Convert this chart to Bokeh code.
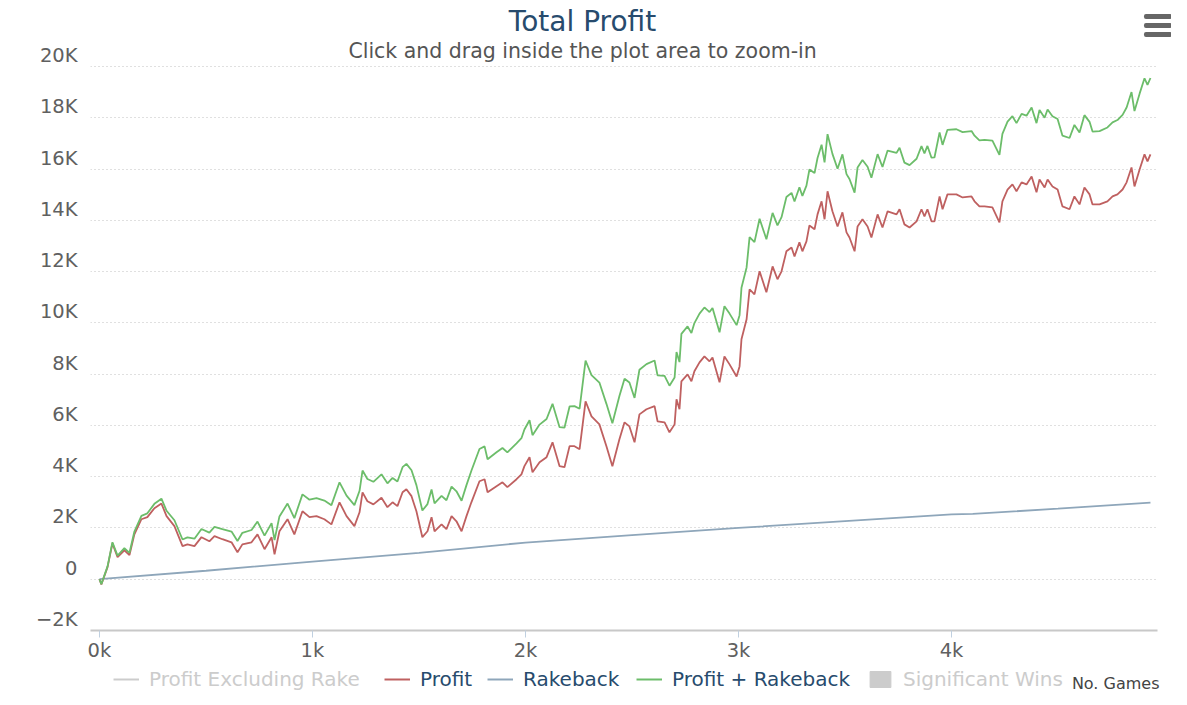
from bokeh.plotting import figure
from bokeh.layouts import column
from bokeh.models import (Range1d, FixedTicker, Label, Legend, LegendItem, ColumnDataSource,
                          LinearAxis, Grid)
from bokeh.embed import file_html
from bokeh.resources import INLINE

# ---------------- data ----------------
games = [0, 9, 38, 61, 85, 117, 141, 164, 197, 225, 258, 291, 315, 352, 390, 413, 446, 479, 516, 540,
         577, 620, 648, 671, 714, 742, 775, 808, 822, 845, 883, 915, 953, 986, 1019, 1056, 1089, 1127, 1160, 1197,
         1221, 1235, 1258, 1286,
         1324, 1352, 1376, 1399, 1423, 1441, 1465, 1488, 1516, 1540, 1559, 1573, 1606, 1629, 1653, 1676, 1700, 1723, 1746, 1784,
         1808, 1822, 1864, 1892, 1915, 1958, 1981, 1995, 2019, 2033, 2066, 2099, 2127, 2160, 2183, 2207, 2230, 2254, 2282, 2310,
         2347, 2380, 2408, 2441, 2465, 2488, 2512, 2535, 2568,
         2606, 2620, 2653, 2676, 2700, 2709, 2723, 2732, 2761, 2779, 2793, 2817, 2840, 2864, 2878, 2911, 2934, 2958, 2991, 3005,
         3014, 3038, 3052, 3075, 3099, 3131, 3160, 3183, 3202, 3225, 3249, 3263, 3286, 3300, 3319, 3333, 3357, 3371, 3390, 3404,
         3418, 3441, 3465, 3488, 3507, 3521, 3545, 3559, 3582, 3606, 3624, 3653, 3676, 3700, 3742, 3756,
         3779, 3803, 3836, 3859, 3873, 3887, 3906, 3920, 3944, 3958, 3981, 4023, 4052, 4094, 4108, 4131, 4155, 4192, 4225, 4239,
         4263, 4286, 4305, 4329, 4352, 4376, 4399, 4413, 4437, 4451, 4474, 4498, 4521, 4554, 4577, 4601, 4624, 4648, 4662, 4695,
         4732, 4756, 4779, 4803, 4822, 4845, 4859, 4883, 4906, 4920, 4934]

profit = [0, -200, 470, 1400, 860, 1130, 940, 1750, 2340, 2420, 2770, 2950, 2460, 2070, 1290, 1360, 1290, 1640, 1480, 1680,
          1560, 1440, 1050, 1360, 1440, 1750, 1170, 1640, 970, 1870, 2340, 1750, 2650, 2420, 2460, 2340, 2140, 3000, 2460, 2070,
          2610, 3390, 3040, 2920,
          3180, 2810, 3000, 2850, 3390, 3510, 3240, 2650, 1640, 1870, 2420, 1870, 2140, 1950, 2460, 2260, 1870, 2460, 3000, 3820,
          3900, 3390, 3630, 3780, 3590, 3900, 4090, 4410, 4760, 4170, 4560, 4760, 5340, 4410, 4370, 5190, 5190, 5070, 6940, 6350,
          6040, 5190, 4410, 5460, 6120, 5960, 5340, 6430, 6630,
          6750, 6160, 6120, 5730, 6040, 7020, 6630, 7720, 7990, 7720, 8110, 8460, 8690, 8500, 8650, 7680, 8690, 8380, 7910, 8300,
          9360, 10140, 11310, 11110, 12010, 11190, 12200, 11700, 12010, 12790, 12940, 12590, 13140, 12790, 13180, 13800, 13650, 14230, 14740, 14040,
          15130, 14350, 13760, 14310, 13530, 13330, 12790, 13760, 14040, 13760, 13330, 14230, 13720, 14350, 14230, 14430,
          13840, 13720, 13960, 14430, 14150, 14430, 13960, 13960, 14930, 14430, 15010, 15010, 14890, 14930, 14740, 14540, 14540, 14500, 13920, 14740,
          15200, 15400, 15130, 15480, 15400, 15710, 15090, 15590, 15280, 15590, 15320, 15200, 14540, 14430, 14930, 14620, 15280, 15010, 14620, 14620,
          14740, 14930, 15010, 15200, 15480, 16060, 15320, 15980, 16570, 16300, 16570]

profit_plus_rakeback = [0, -190, 500, 1440, 920, 1210, 1030, 1860, 2470, 2570, 2940, 3140, 2670, 2300, 1550, 1630, 1580, 1960, 1820, 2040,
                        1950, 1860, 1490, 1810, 1920, 2250, 1700, 2190, 1530, 2450, 2950, 2380, 3310, 3100, 3160, 3070, 2890, 3780, 3260, 2890,
                        3450, 4240, 3910, 3800,
                        4090, 3740, 3950, 3810, 4370, 4500, 4250, 3670, 2680, 2930, 3500, 2960, 3250, 3080, 3610, 3430, 3060, 3670, 4230, 5080,
                        5180, 4680, 4950, 5120, 4950, 5300, 5500, 5840, 6200, 5620, 6030, 6250, 6840, 5930, 5910, 6740, 6750, 6650, 8530, 7960,
                        7670, 6840, 6080, 7150, 7820, 7670, 7070, 8170, 8390,
                        8530, 7950, 7930, 7550, 7870, 8860, 8470, 9570, 9860, 9600, 9990, 10360, 10600, 10420, 10580, 9630, 10650, 10360, 9910, 10300,
                        11370, 12160, 13340, 13150, 14060, 13260, 14290, 13800, 14120, 14910, 15070, 14730, 15290, 14950, 15350, 15980, 15840, 16430, 16950, 16260,
                        17360, 16590, 16010, 16570, 15800, 15610, 15080, 16060, 16350, 16090, 15660, 16580, 16080, 16720, 16630, 16830,
                        16250, 16150, 16400, 16890, 16610, 16900, 16440, 16450, 17430, 16940, 17530, 17550, 17440, 17480, 17300, 17120, 17140, 17110, 16550, 17370,
                        17850, 18060, 17790, 18150, 18080, 18400, 17790, 18300, 18000, 18320, 18060, 17950, 17300, 17210, 17720, 17420, 18100, 17840, 17460, 17480,
                        17620, 17820, 17910, 18110, 18400, 19000, 18260, 18940, 19540, 19280, 19550]

rakeback_games = [0, 500, 1000, 1500, 2000, 2500, 3000, 3500, 4000, 4100, 4500, 4934]
rakeback = [0, 330, 690, 1030, 1430, 1720, 2000, 2270, 2530, 2550, 2750, 2990]

y_ticks = [-2000, 0, 2000, 4000, 6000, 8000, 10000, 12000, 14000, 16000, 18000, 20000]
y_tick_labels = ["\u22122K", "0", "2K", "4K", "6K", "8K", "10K", "12K", "14K", "16K", "18K", "20K"]
x_ticks = [0, 1000, 2000, 3000, 4000]
x_tick_labels = ["0k", "1k", "2k", "3k", "4k"]

series_names = ["Profit Excluding Rake", "Profit", "Rakeback", "Profit + Rakeback", "Significant Wins"]

FONT = "DejaVu Sans"
W = 1171
C_RED = "#bf6060"
C_GREEN = "#6cbd6a"
C_RB = "#8ea6ba"
C_HIDDEN = "#cccccc"
C_LEGEND = "#274b6d"

# value units per screen pixel on the y scale (22000 units over 565 px)
PX = 22000 / 565.0


def blank_fig(h):
    f = figure(width=W, height=h, output_backend="svg", toolbar_location=None,
               x_range=Range1d(0, W), y_range=Range1d(h, 0),
               x_axis_type=None, y_axis_type=None, frame_align=False,
               min_border_left=0, min_border_right=0, min_border_top=0, min_border_bottom=0)
    f.outline_line_color = None
    f.xgrid.visible = False
    f.ygrid.visible = False
    f.border_fill_color = "white"
    f.background_fill_color = "white"
    return f


# ---------------- header: title + menu icon ----------------
top = blank_fig(38)
top.add_layout(Label(x=582, y=21, text="Total Profit", text_align="center", text_baseline="middle",
                     text_font=FONT, text_font_size="28px", text_color="#274b6d"))
for yv in [16, 25, 34]:
    top.add_layout(Label(x=1157.5, y=yv, text="\u00a0" * 27, text_align="center", text_baseline="middle",
                         text_font="Noto Sans", text_font_size="4px", background_fill_color="#666666",
                         border_radius=2))
top.scatter([], [], size=0)

# ---------------- main chart ----------------
y_top = 20000 + 28 * PX          # frame reaches 28 px above the 20K line
p = figure(width=W, height=626, output_backend="svg", toolbar_location=None,
           x_range=Range1d(-42, 4967), y_range=Range1d(-2000, y_top), frame_align=False,
           y_axis_location=None,
           min_border_left=90, min_border_right=14, min_border_top=0, min_border_bottom=33)
p.outline_line_color = None
p.background_fill_color = "white"
p.border_fill_color = "white"

# tick labels sit ~11 px above their grid lines, as in the original
shift = 11 * PX
p.extra_y_ranges = {"lab": Range1d(-2000 - shift, y_top - shift)}
yax = LinearAxis(y_range_name="lab", ticker=FixedTicker(ticks=y_ticks),
                 major_label_overrides={t: l for t, l in zip(y_ticks, y_tick_labels)},
                 axis_line_color=None, major_tick_line_color=None, minor_tick_line_color=None,
                 major_label_standoff=7, major_label_text_font=FONT,
                 major_label_text_font_size="19.5px", major_label_text_color="#606060")
p.add_layout(yax, "left")

p.xgrid.visible = False
for g in list(p.ygrid):
    g.visible = False
p.add_layout(Grid(dimension=1, ticker=FixedTicker(ticks=y_ticks), grid_line_color="#c0c0c0",
                  grid_line_dash="1 3", grid_line_width=1))

p.xaxis.ticker = FixedTicker(ticks=x_ticks)
p.xaxis.major_label_overrides = {t: l for t, l in zip(x_ticks, x_tick_labels)}
p.xaxis.axis_line_color = "#c8c8c8"
p.xaxis.axis_line_width = 2
p.xaxis.major_tick_line_color = "#c0d0e0"
p.xaxis.major_tick_in = 0
p.xaxis.major_tick_out = 7
p.xaxis.minor_tick_line_color = None
p.xaxis.major_label_standoff = 1
p.xaxis.major_label_text_font = FONT
p.xaxis.major_label_text_font_size = "19.5px"
p.xaxis.major_label_text_color = "#606060"

p.add_layout(Label(x=2268, y=20000 + 15.5 * PX, text="Click and drag inside the plot area to zoom-in",
                   text_align="center", text_baseline="middle", text_font=FONT, text_font_size="20.5px",
                   text_color="#555555"))

src = ColumnDataSource(dict(games=games, profit=profit, ppr=profit_plus_rakeback))
rb_src = ColumnDataSource(dict(games=rakeback_games, rakeback=rakeback))

p.line("games", "rakeback", source=rb_src, line_color=C_RB, line_width=1.8)
p.line("games", "profit", source=src, line_color=C_RED, line_width=1.8)
p.line("games", "ppr", source=src, line_color=C_GREEN, line_width=1.8)

# ---------------- legend strip ----------------
bot = blank_fig(38)
nan_src = ColumnDataSource(dict(x=[float("nan")], y=[float("nan")], x1=[float("nan")], y1=[float("nan")]))
lg_excl = bot.line("x", "y", source=nan_src, line_color=C_HIDDEN, line_width=2)
lg_profit = bot.line("x", "y", source=nan_src, line_color=C_RED, line_width=2)
lg_rb = bot.line("x", "y", source=nan_src, line_color=C_RB, line_width=2)
lg_ppr = bot.line("x", "y", source=nan_src, line_color=C_GREEN, line_width=2)
lg_sig = bot.quad(left="x", right="x1", bottom="y", top="y1", source=nan_src,
                  fill_color=C_HIDDEN, line_color=C_HIDDEN)

legend_specs = [
    (series_names[0], lg_excl, 113, C_HIDDEN),
    (series_names[1], lg_profit, 384, C_LEGEND),
    (series_names[2], lg_rb, 487, C_LEGEND),
    (series_names[3], lg_ppr, 636, C_LEGEND),
    (series_names[4], lg_sig, 867, C_HIDDEN),
]
for label, rend, xoff, color in legend_specs:
    leg = Legend(items=[LegendItem(label=label, renderers=[rend])],
                 location=(xoff, 11), orientation="horizontal",
                 border_line_color=None, background_fill_alpha=0, padding=0, margin=0,
                 glyph_width=26, glyph_height=20, label_standoff=10, spacing=0,
                 label_text_font=FONT, label_text_font_size="20px", label_text_color=color)
    bot.add_layout(leg)

bot.add_layout(Label(x=1159, y=19, text="No. Games", text_align="right", text_baseline="middle",
                     text_font=FONT, text_font_size="16px", text_color="#444444"))

layout = column(top, p, bot, spacing=0)
open("out.html", "w").write(file_html(layout, INLINE))
